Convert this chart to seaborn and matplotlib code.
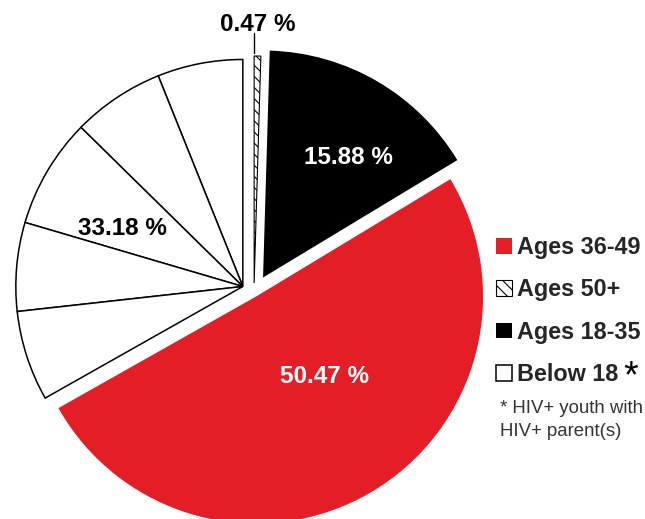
import numpy as np
import pandas as pd
import seaborn as sns
import matplotlib.pyplot as plt

sns.set_theme(style='white')
plt.rcParams['font.family'] = ['Liberation Sans', 'DejaVu Sans']
plt.rcParams['hatch.linewidth'] = 0.8

# data
groups = ['Below 18', 'Ages 36-49', 'Ages 18-35', 'Ages 50+']
group_pct = [33.18, 50.47, 15.88, 0.47]
pct_labels = ['33.18 %', '50.47 %', '15.88 %', '0.47 %']
below18_parts = [6.08, 6.56, 7.81, 6.31, 6.42]   # thin sub-wedges inside "Below 18"
legend_order = ['Ages 36-49', 'Ages 50+', 'Ages 18-35', 'Below 18']

red = '#E31E26'
colors = ['white', red, 'black', 'white']
explode = [0.057, 0.018, 0.079, 0.044]

fig = plt.figure(figsize=(6.45, 5.19), dpi=100)
ax = fig.add_axes([0, 0, 1, 1])

# main groups
wedges, _ = ax.pie(group_pct, startangle=90, counterclock=True, explode=explode,
                   colors=colors, wedgeprops=dict(linewidth=0))
wedges[0].set_visible(False)
wedges[3].set_edgecolor('black')
wedges[3].set_linewidth(0.8)
wedges[3].set_hatch('\\\\\\')

# "Below 18" split into its sub-wedges, sharing the group's exploded centre
parts, _ = ax.pie(np.array(below18_parts) / 100, normalize=False, startangle=90,
                  counterclock=True, center=wedges[0].center,
                  colors=['white'] * len(below18_parts),
                  wedgeprops=dict(edgecolor='black', linewidth=1.1))

# pie centre / radius in pixels -> axis limits
cx_px, cy_px, r_px = 254, 293, 227
ax.set_xlim(-cx_px / r_px, (645 - cx_px) / r_px)
ax.set_ylim(-(519 - cy_px) / r_px, cy_px / r_px)
ax.axis('off')


def spot(w, ang, frac):
    a = np.radians(ang)
    return w.center[0] + frac * w.r * np.cos(a), w.center[1] + frac * w.r * np.sin(a)


lab = dict(fontsize=17.5, fontweight='bold', ha='center', va='center')
x, y = spot(wedges[0], 154.2, 0.59)
ax.text(x, y, pct_labels[0], color='black', **lab)
x, y = spot(wedges[1], 310.2, 0.464)
ax.text(x, y, pct_labels[1], color='white', **lab)
x, y = spot(wedges[2], 54.6, 0.646)
ax.text(x, y, pct_labels[2], color='white', **lab)

# tiny slice: leader line + label
hw = wedges[3]
mid = (hw.theta1 + hw.theta2) / 2
tx, ty = spot(hw, mid, 1.0)
tx -= 0.015
ax.plot([tx, tx], [ty + 0.015, ty + 0.10], color='black', lw=1)
ax.text(tx + 0.018, ty + 0.14, pct_labels[3], color='black', **lab)

handle_for = {'Ages 36-49': wedges[1], 'Ages 50+': wedges[3],
              'Ages 18-35': wedges[2], 'Below 18': parts[0]}
leg = fig.legend([handle_for[g] for g in legend_order], legend_order,
                 loc='upper left', bbox_to_anchor=(496 / 645, 1 - 236 / 519),
                 bbox_transform=fig.transFigure, frameon=False,
                 prop=dict(family='Liberation Sans', weight='bold', size=16.8),
                 handlelength=0.67, handleheight=0.67, handletextpad=0.25,
                 labelspacing=0.83, borderpad=0, borderaxespad=0)

fig.text(631 / 645, 1 - 387 / 519, '*', fontsize=27, ha='center', va='baseline',
         color='black')
fig.text(500 / 645, 1 - 400 / 519, '* HIV+ youth with\nHIV+ parent(s)',
         fontsize=13.4, color='#333333', ha='left', va='top', linespacing=1.45)

fig.savefig('out.png', dpi=100)
